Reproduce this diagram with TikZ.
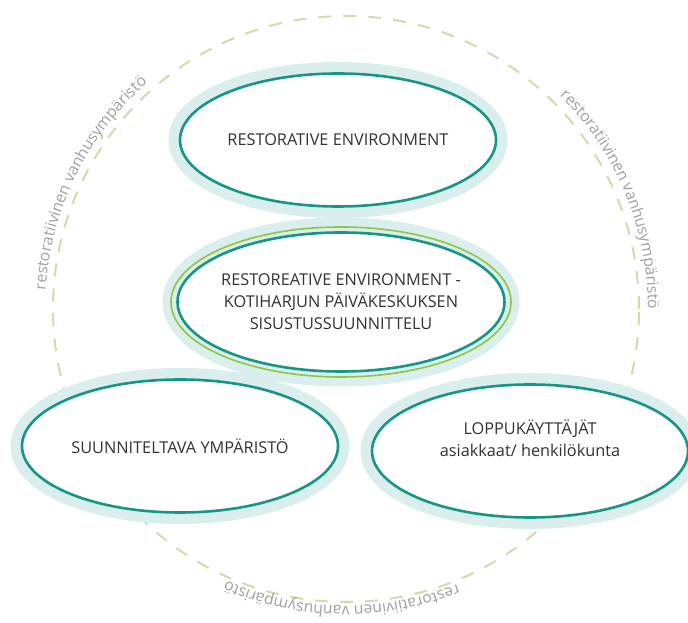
\documentclass[tikz,border=0pt]{standalone}
\usepackage{fontspec}
\setmainfont{Open Sans}
\usetikzlibrary{shapes.geometric,decorations.text}
\definecolor{ringteal}{RGB}{22,150,134}
\definecolor{ringgreen}{RGB}{141,198,63}
\definecolor{halo}{RGB}{218,238,238}
\definecolor{dashgreen}{RGB}{205,222,170}
\definecolor{arcgray}{RGB}{160,160,160}
\definecolor{textdark}{RGB}{50,50,50}
\newcommand{\arcfont}{\fontsize{15.7}{16}\selectfont}
\tikzset{
  bubble/.style={
    ellipse,
    draw=ringteal,
    line width=2.6pt,
    fill=white,
    text=textdark,
    align=center,
    inner sep=0pt,
    font=\fontsize{16.3}{22}\selectfont,
    minimum width=316pt,
    minimum height=133pt,
    preaction={draw=halo, line width=23pt}
  },
  ring-dash/.style={draw=dashgreen, line width=2pt, dash pattern=on 13pt off 12pt},
  arc-text/.style={
    decorate,
    decoration={text along path, text align=left, text color=arcgray,
      text={|\arcfont|restoratiivinen vanhusympäristö}}
  }
}
\newcommand{\arclabel}[2]{
  \path[arc-text] (ring.center) ++(#1:#2) arc[start angle=#1, delta angle=-60, radius=#2];
}

\begin{document}
\begin{tikzpicture}[x=1pt, y=1pt]
  \useasboundingbox (0,0) rectangle (688,623);
  % dashed ring round it all
  \node[circle, ring-dash, minimum size=586pt, inner sep=0pt] (ring) at (346,314) {};
  % ring labels
  \arclabel{176.4}{301}
  \arclabel{45}{302}
  \arclabel{-68}{297}
  % bubbles
  \node[bubble] (restorative) at (338,483) {RESTORATIVE ENVIRONMENT};
  \node[bubble] (environment) at (180,177) {SUUNNITELTAVA YMPÄRISTÖ};
  \node[bubble] (users) at (530,172) {LOPPUKÄYTTÄJÄT\\asiakkaat/ henkilökunta\\[4pt]};
  \node[bubble, inner xsep=-20pt, minimum width=327pt, minimum height=139pt,
        preaction={draw=halo, line width=30pt}] (interior) at (341,321)
    {RESTOREATIVE ENVIRONMENT -\\KOTIHARJUN PÄIVÄKESKUKSEN\\SISUSTUSSUUNNITTELU};
  \draw[ringgreen, line width=1.6pt] (interior.center) ellipse [x radius=170, y radius=75];
\end{tikzpicture}
\end{document}
